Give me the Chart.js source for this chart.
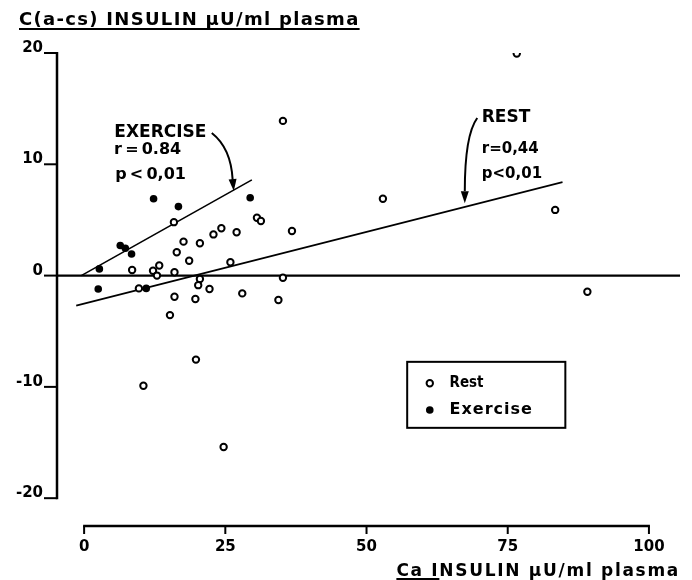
<!DOCTYPE html>
<html>
<head>
<meta charset="utf-8">
<script src="https://cdn.jsdelivr.net/npm/chart.js@4.4.1/dist/chart.umd.min.js"></script>
<style>
  html, body { margin: 0; padding: 0; background: #fff; }
  #wrap { width: 692px; height: 580px; position: relative; }
</style>
</head>
<body>
<div id="wrap"><canvas id="chart"></canvas></div>
<script>
// ── Data ─────────────────────────────────────────────
const REST_X = [35.2, 15.9, 30.6, 31.3, 36.8, 24.3, 22.9, 27.0, 17.6, 20.5, 16.4, 18.6, 25.9,
                8.5, 12.2, 13.3, 12.9, 16.0, 20.5, 20.2, 22.2, 9.7, 28.0, 16.0, 19.7, 34.4,
                35.2, 15.2, 19.8, 10.5, 24.7, 76.6, 52.9, 83.4, 89.1];
const REST_Y = [13.9, 4.8, 5.2, 4.9, 4.0, 4.25, 3.7, 3.9, 3.05, 2.9, 2.1, 1.33, 1.2,
                0.5, 0.43, 0.9, 0.0, 0.3, -0.3, -0.86, -1.2, -1.15, -1.6, -1.9, -2.1, -2.2,
                -0.2, -3.55, -7.55, -9.9, -15.4, 19.95, 6.9, 5.9, -1.45];
const EX_X = [2.7, 2.5, 6.4, 7.3, 8.4, 12.3, 16.7, 29.4, 11.0];
const EX_Y = [0.6, -1.2, 2.7, 2.45, 1.94, 6.9, 6.2, 7.0, -1.15];

// regression lines (end points)
const REST_FIT_X = [-1.4, 84.7];
const REST_FIT_Y = [-2.7, 8.4];
const EX_FIT_X = [-0.5, 29.7];
const EX_FIT_Y = [0.0, 8.6];

const X_TICKS = [0, 25, 50, 75, 100];
const Y_TICKS = [20, 10, 0, -10, -20];
const X_MIN = -4.8, X_MAX = 105.5;
const Y_MIN = -22.5, Y_MAX = 20;

const Y_TITLE = 'C(a-cs) INSULIN \u03bcU/ml plasma';
const X_TITLE = 'Ca INSULIN \u03bcU/ml plasma';

const FONT = '"DejaVu Sans", sans-serif';
const TS = '\u2009'; // thin space

const pts = (xs, ys) => xs.map((x, i) => ({ x, y: ys[i] }));

// ── Axes, titles, annotations, legend ────────────────
const decorPlugin = {
  id: 'decor',
  afterDraw(chart) {
    const { ctx, chartArea, scales } = chart;
    const X = v => scales.x.getPixelForValue(v);
    const Y = v => scales.y.getPixelForValue(v);
    ctx.save();
    ctx.strokeStyle = '#000';
    ctx.fillStyle = '#000';
    ctx.lineCap = 'butt';

    // y axis
    const ax = chartArea.left;
    ctx.lineWidth = 2.5;
    ctx.beginPath();
    ctx.moveTo(ax, Y(Y_TICKS[0]) - 1);
    ctx.lineTo(ax, Y(Y_TICKS[Y_TICKS.length - 1]) + 1);
    ctx.stroke();
    ctx.font = 'bold 15px ' + FONT;
    ctx.textAlign = 'right';
    ctx.textBaseline = 'alphabetic';
    Y_TICKS.forEach(t => {
      const y = Y(t);
      ctx.lineWidth = 2;
      ctx.beginPath();
      ctx.moveTo(ax - 13, y);
      ctx.lineTo(ax, y);
      ctx.stroke();
      ctx.fillText(t < 0 ? '-' + Math.abs(t) : String(t), ax - 14, y - 1);
    });

    // x axis
    const ay = chartArea.bottom;
    ctx.lineWidth = 2.5;
    ctx.beginPath();
    ctx.moveTo(X(X_TICKS[0]) - 1, ay);
    ctx.lineTo(X(X_TICKS[X_TICKS.length - 1]) + 1, ay);
    ctx.stroke();
    ctx.textAlign = 'center';
    ctx.textBaseline = 'top';
    X_TICKS.forEach(t => {
      const x = X(t);
      ctx.lineWidth = 2;
      ctx.beginPath();
      ctx.moveTo(x, ay);
      ctx.lineTo(x, ay + 8);
      ctx.stroke();
      ctx.fillText(String(t), x, ay + 14);
    });

    // axis titles
    ctx.font = 'bold 18px ' + FONT;
    ctx.letterSpacing = '1.3px';
    ctx.textAlign = 'left';
    ctx.textBaseline = 'alphabetic';
    ctx.fillText(Y_TITLE, 19, 25);
    const tw = ctx.measureText(Y_TITLE).width;
    ctx.lineWidth = 2;
    ctx.beginPath();
    ctx.moveTo(19, 29);
    ctx.lineTo(19 + tw, 29);
    ctx.stroke();

    ctx.font = 'bold 17px ' + FONT;
    ctx.letterSpacing = '1.7px';
    ctx.textAlign = 'left';
    const xw = ctx.measureText(X_TITLE).width;
    const x0 = 680 - xw;
    ctx.fillText(X_TITLE, x0, 576);
    const caw = ctx.measureText('Ca I').width;
    ctx.beginPath();
    ctx.moveTo(x0, 579);
    ctx.lineTo(x0 + caw, 579);
    ctx.stroke();
    ctx.letterSpacing = '0px';

    // annotations
    ctx.textAlign = 'left';
    ctx.textBaseline = 'top';
    ctx.font = 'bold 17px ' + FONT;
    ctx.fillText('EXERCISE', X(5.35), Y(13.53) - 1);
    ctx.fillText('REST', X(70.4), Y(14.88) - 1);
    ctx.font = 'bold 16px ' + FONT;
    ctx.fillText('r' + TS + '=' + TS + '0.84', X(5.3), Y(11.9) - 1);
    ctx.fillText('p' + TS + '<' + TS + '0,01', X(5.5), Y(9.67) - 1);
    ctx.font = 'bold 15px ' + FONT;
    ctx.fillText('r=0,44', X(70.4), Y(12.03));
    ctx.fillText('p<0,01', X(70.4), Y(9.78));

    const arrow = (sx, sy, cx, cy, ex, ey, tx, ty) => {
      ctx.lineWidth = 2;
      ctx.beginPath();
      ctx.moveTo(X(sx), Y(sy));
      ctx.quadraticCurveTo(X(cx), Y(cy), X(ex), Y(ey));
      ctx.stroke();
      const px = X(tx), py = Y(ty);
      const ang = Math.atan2(py - Y(ey), px - X(ex));
      const len = 12, half = 4;
      const bx = px - Math.cos(ang) * len, by = py - Math.sin(ang) * len;
      ctx.beginPath();
      ctx.moveTo(px, py);
      ctx.lineTo(bx + Math.sin(ang) * half, by - Math.cos(ang) * half);
      ctx.lineTo(bx - Math.sin(ang) * half, by + Math.cos(ang) * half);
      ctx.closePath();
      ctx.fill();
    };
    arrow(22.6, 12.81, 26.0, 11.46, 26.3, 8.6, 26.5, 7.6);
    arrow(69.6, 14.16, 67.4, 12.63, 67.4, 7.6, 67.4, 6.5);

    // legend box
    ctx.lineWidth = 2;
    ctx.strokeRect(X(57.2), Y(-7.75), X(85.2) - X(57.2), Y(-13.68) - Y(-7.75));
    ctx.textBaseline = 'middle';
    ctx.beginPath();
    ctx.arc(X(61.2), Y(-9.68), 3.2, 0, Math.PI * 2);
    ctx.stroke();
    ctx.font = 'bold 15px ' + FONT;
    ctx.fillText('Rest', X(64.7), Y(-9.68), 34);
    ctx.beginPath();
    ctx.arc(X(61.2), Y(-12.08), 3.8, 0, Math.PI * 2);
    ctx.fill();
    ctx.font = 'bold 16px ' + FONT;
    ctx.letterSpacing = '1px';
    ctx.fillText('Exercise', X(64.7), Y(-12.08));
    ctx.letterSpacing = '0px';

    ctx.restore();
  }
};

window.addEventListener('DOMContentLoaded', () => {
  const ctx = document.getElementById('chart').getContext('2d');
  new Chart(ctx, {
    type: 'scatter',
    plugins: [decorPlugin],
    data: {
      datasets: [
        {
          label: 'Rest',
          data: pts(REST_X, REST_Y),
          pointStyle: 'circle',
          pointRadius: 3.2,
          pointBorderWidth: 2,
          pointBackgroundColor: '#fff',
          pointBorderColor: '#000',
          order: 0,
        },
        {
          label: 'Exercise',
          data: pts(EX_X, EX_Y),
          pointStyle: 'circle',
          pointRadius: 3.8,
          pointBorderWidth: 0,
          pointBackgroundColor: '#000',
          pointBorderColor: '#000',
          order: 0,
        },
        {
          label: 'Rest fit',
          data: pts(REST_FIT_X, REST_FIT_Y),
          showLine: true,
          borderColor: '#000',
          borderWidth: 1.6,
          pointRadius: 0,
          order: 1,
        },
        {
          label: 'Exercise fit',
          data: pts(EX_FIT_X, EX_FIT_Y),
          showLine: true,
          borderColor: '#000',
          borderWidth: 1.6,
          pointRadius: 0,
          order: 1,
        },
        {
          label: 'zero',
          data: pts([X_MIN, X_MAX], [0, 0]),
          showLine: true,
          borderColor: '#000',
          borderWidth: 2.4,
          pointRadius: 0,
          order: 1,
        }
      ]
    },
    options: {
      responsive: true,
      maintainAspectRatio: false,
      animation: false,
      layout: { padding: { left: 57, right: 12, top: 53, bottom: 54 } },
      plugins: { legend: { display: false }, tooltip: { enabled: false } },
      scales: {
        x: { type: 'linear', min: X_MIN, max: X_MAX, display: false },
        y: { type: 'linear', min: Y_MIN, max: Y_MAX, display: false }
      }
    }
  });
});
</script>
</body>
</html>
